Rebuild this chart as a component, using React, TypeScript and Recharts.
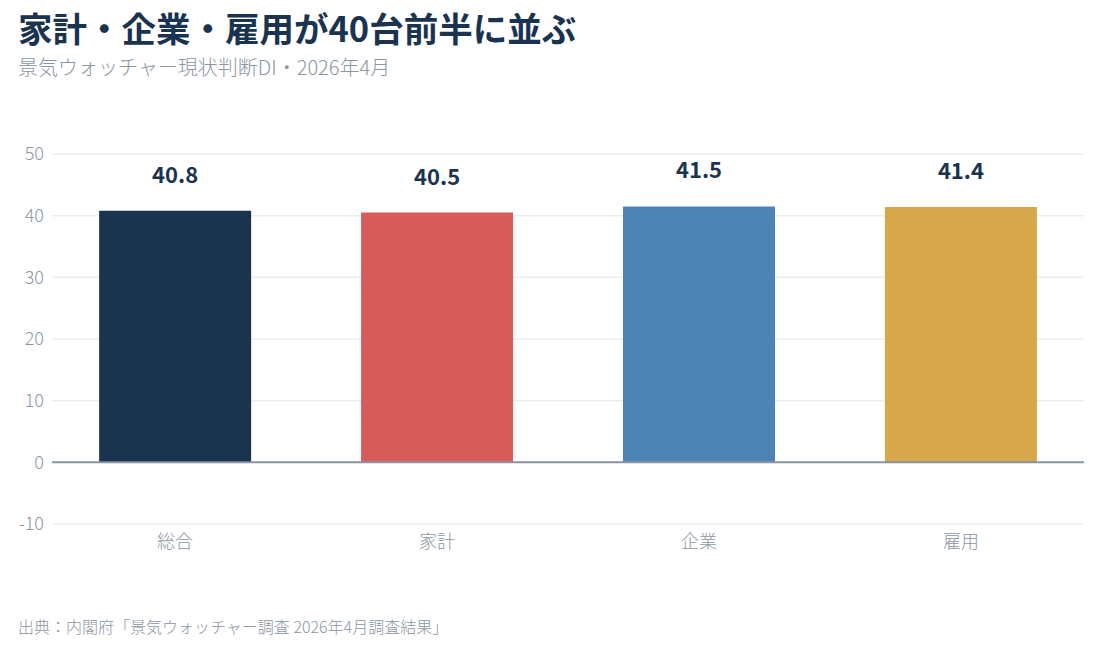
import { Bar, BarChart, CartesianGrid, Cell, LabelList, ReferenceLine, XAxis, YAxis } from "recharts";

const categories = ["総合", "家計", "企業", "雇用"];
const diValues = [40.8, 40.5, 41.5, 41.4];
const barColors = ["#1a334f", "#d75b5b", "#4d84b5", "#d7a74b"];
const yTicks = [-10, 0, 10, 20, 30, 40, 50];

const FONT = '"Noto Sans CJK JP", "Noto Sans", sans-serif';

const chartData = categories.map((name, idx) => ({ idx, name, value: diValues[idx] }));

export default function App() {
  return (
    <div style={{ position: "absolute", left: 0, top: 0, width: 1099, height: 649, background: "#fff", fontFamily: FONT }}>
      <div style={{ position: "absolute", left: 18, top: 10, fontSize: 34.5, lineHeight: 1, fontWeight: 700, color: "#1a334f", whiteSpace: "nowrap" }}>
        家計・企業・雇用が40台前半に並ぶ
      </div>
      <div style={{ position: "absolute", left: 18, top: 57, fontSize: 20, lineHeight: 1, fontWeight: 300, color: "#8a96a3", whiteSpace: "nowrap" }}>
        景気ウォッチャー現状判断DI・2026年4月
      </div>

      <BarChart
        width={1099}
        height={649}
        data={chartData}
        margin={{ top: 154, right: 15, bottom: 95, left: 0 }}
        style={{ position: "absolute", left: 0, top: 0 }}
      >
        <CartesianGrid vertical={false} stroke="#e9edf2" strokeWidth={1.5} />
        <XAxis
          type="number"
          dataKey="idx"
          domain={[-0.47, 3.47]}
          ticks={[0, 1, 2, 3]}
          tickFormatter={(i: number) => categories[i] ?? ""}
          axisLine={false}
          tickLine={false}
          tickSize={0}
          tickMargin={11}
          height={30}
          tick={{ fontSize: 18, fontWeight: 300, fill: "#8a96a3", fontFamily: FONT }}
        />
        <YAxis
          domain={[-10, 50]}
          ticks={yTicks}
          axisLine={false}
          tickLine={false}
          tickSize={0}
          tickMargin={8}
          width={52}
          tick={{ fontSize: 18, fontWeight: 300, fill: "#8a96a3", fontFamily: FONT }}
        />
        <Bar dataKey="value" barSize={152} isAnimationActive={false}>
          {chartData.map((d) => (
            <Cell key={d.name} fill={barColors[d.idx]} />
          ))}
          <LabelList
            dataKey="value"
            position="top"
            offset={28}
            formatter={(v: number) => v.toFixed(1)}
            style={{ fontSize: 22, fontWeight: 700, fill: "#1a334f", fontFamily: FONT }}
          />
        </Bar>
        <ReferenceLine y={0} stroke="#8a94a3" strokeWidth={2} />
      </BarChart>

      <div style={{ position: "absolute", left: 18, top: 618, fontSize: 16, lineHeight: 1, fontWeight: 300, color: "#8a96a3", whiteSpace: "nowrap" }}>
        出典：内閣府「景気ウォッチャー調査 2026年4月調査結果」
      </div>
    </div>
  );
}
